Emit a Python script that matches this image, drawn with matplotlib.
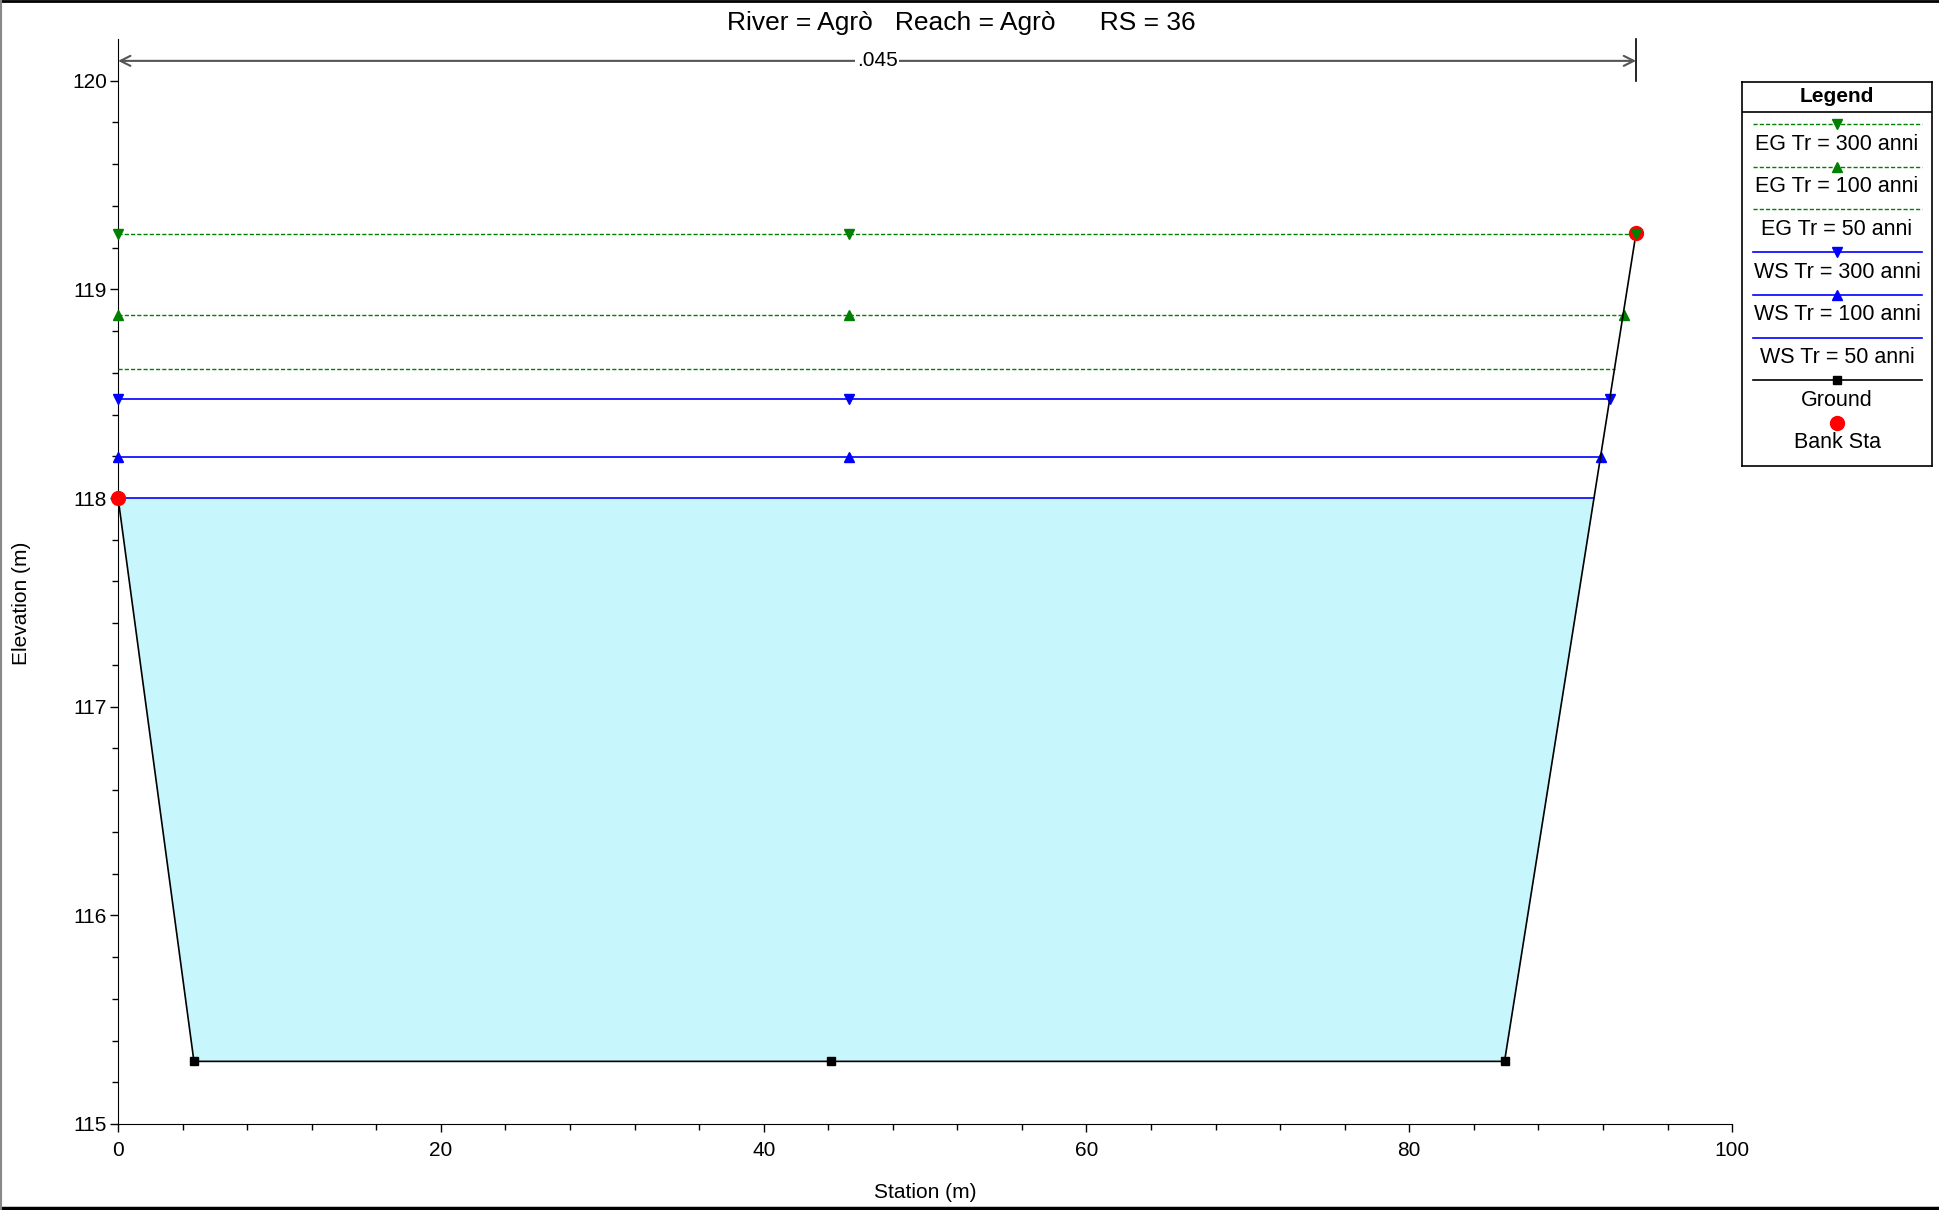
import matplotlib.pyplot as plt
from matplotlib.lines import Line2D

plt.rcParams["font.family"] = ["Liberation Sans", "DejaVu Sans"]

# ground profile (station, elevation)
ground_x = [0.0, 4.7, 44.2, 85.9, 94.05]
ground_y = [118.0, 115.3, 115.3, 115.3, 119.27]
bank_x = [0.0, 94.05]
bank_y = [118.0, 119.27]

# water surface / energy grade levels
labels = ["EG Tr = 300 anni", "EG Tr = 100 anni", "EG Tr = 50 anni",
          "WS Tr = 300 anni", "WS Tr = 100 anni", "WS Tr = 50 anni"]
levels = [119.265, 118.878, 118.62, 118.474, 118.195, 118.0]
right_end = [94.05, 93.3, 92.75, 92.45, 91.85, 91.45]
mid_sta = 45.3

manning_n = ".045"

EG = dict(color="#008000", linestyle=(0, (3, 1.5)), linewidth=1.0)
WS = dict(color="#0000ff", linestyle="-", linewidth=1.2)
styles = [
    dict(EG, marker="v"), dict(EG, marker="^"), dict(EG, marker=None),
    dict(WS, marker="v"), dict(WS, marker="^"), dict(WS, marker=None),
]
GROUND = dict(color="black", linewidth=1.2, marker="s", markersize=6)
BANK = dict(color="red", linestyle="none", marker="o", markersize=10)

FS = 15

fig = plt.figure(figsize=(19.39, 12.10), dpi=100)
ax = fig.add_axes([0.0609, 0.0711, 0.8324, 0.8967])

ax.fill_between(ground_x, ground_y, levels[5],
                where=[g <= levels[5] + 1e-9 for g in ground_y],
                interpolate=True, color="#c8f6fd", zorder=1, linewidth=0)

for lev, xe, st in zip(levels, right_end, styles):
    ax.plot([0, mid_sta, xe], [lev] * 3, markersize=7, zorder=3,
            clip_on=False, **st)

ax.plot(ground_x, ground_y, zorder=4, clip_on=False, **GROUND)
ax.plot(bank_x, bank_y, zorder=5, clip_on=False, **BANK)
# top EG marker sits over the bank circle
ax.plot([right_end[0]], [levels[0]], color="#008000", marker="v",
        markersize=7, linestyle="none", zorder=6)

# manning's n bracket
ytop = 120.095
ax.annotate("", xy=(0, ytop), xytext=(bank_x[1], ytop),
            arrowprops=dict(arrowstyle="<->", color="#555555", lw=1.5,
                            shrinkA=0, shrinkB=0, mutation_scale=18))
ax.plot([bank_x[1], bank_x[1]], [120.0, 120.2], color="black", lw=1.2,
        clip_on=False)
ax.text(bank_x[1] / 2, ytop, manning_n, ha="center", va="center", fontsize=FS,
        bbox=dict(facecolor="white", edgecolor="none", pad=1))

ax.set_xlim(0, 100)
ax.set_ylim(115, 120.2)
ax.set_xticks([0, 20, 40, 60, 80, 100])
ax.set_xticks([i * 4 for i in range(26)], minor=True)
ax.set_yticks([115, 116, 117, 118, 119, 120])
ax.set_yticks([115 + i * 0.2 for i in range(26)], minor=True)
ax.tick_params(which="major", length=6, width=1, labelsize=FS, direction="out")
ax.tick_params(which="minor", length=4, width=1)
ax.tick_params(axis="x", which="major", pad=6)
ax.tick_params(axis="y", which="major", pad=2)
for s in ["top", "right"]:
    ax.spines[s].set_visible(False)

ax.set_xlabel("Station (m)", fontsize=FS)
ax.xaxis.set_label_coords(0.5, -0.054)
ax.set_ylabel("Elevation (m)", fontsize=FS)
ax.yaxis.set_label_coords(-0.054, 0.48)
fig.text(0.496, 0.981, "River = Agrò   Reach = Agrò      RS = 36",
         ha="center", va="center", fontsize=19)

# legend drawn as a panel
W, H = 1939, 1210
lx0, lx1, ly0, ly1 = 1742, 1932, 82, 466
lg = fig.add_axes([lx0 / W, 1 - ly1 / H, (lx1 - lx0) / W, (ly1 - ly0) / H])
lg.set_xlim(lx0, lx1)
lg.set_ylim(ly1, ly0)
lg.set_xticks([])
lg.set_yticks([])
for s in lg.spines.values():
    s.set_linewidth(1.2)
lg.axhline(112, color="black", lw=1.2)
lg.text((lx0 + lx1) / 2, 96, "Legend", ha="center", va="center",
        fontsize=FS, fontweight="bold")
cx = (lx0 + lx1) / 2
entries = list(zip(labels, styles)) + [("Ground", GROUND), ("Bank Sta", BANK)]
for i, (lab, st) in enumerate(entries):
    yl = 124 + i * 42.7
    kw = dict(st)
    kw.setdefault("markersize", 7)
    if kw.get("linestyle") != "none":
        lg.plot([1753, 1922], [yl, yl], **{k: v for k, v in kw.items()
                                             if k not in ("marker", "markersize")})
    if kw.get("marker"):
        lg.plot([cx], [yl], linestyle="none", marker=kw["marker"],
                color=kw["color"], markersize=kw["markersize"])
    lg.text(cx, yl + 20, lab, ha="center", va="center", fontsize=15.5)

# outer frame: top, bottom, left
fig.add_artist(Line2D([0, 1], [0.999, 0.999], transform=fig.transFigure,
                      color="black", lw=2))
fig.add_artist(Line2D([0, 1], [0.002, 0.002], transform=fig.transFigure,
                      color="black", lw=2.5))
fig.add_artist(Line2D([0.0005, 0.0005], [0, 1], transform=fig.transFigure,
                      color="#888888", lw=1.5))

fig.savefig("out.png", dpi=100)
